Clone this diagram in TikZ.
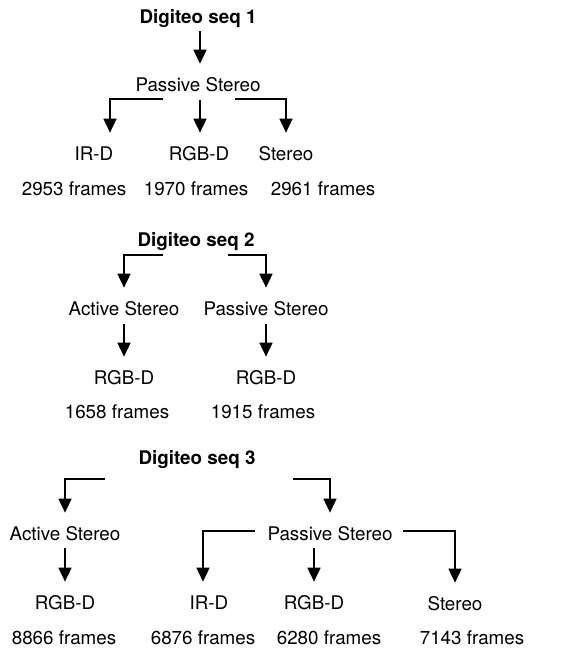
\documentclass[tikz,border=0pt]{standalone}
\usepackage{fontspec}
\setmainfont{TeX Gyre Heros}
\usetikzlibrary{arrows.meta}
\begin{document}
\begin{tikzpicture}[
        x=0.02cm, y=-0.02cm,
        every node/.style={anchor=base, inner xsep=0, inner ysep=0.26cm, text height=0.28cm, text depth=0,
            font=\fontsize{10.7}{13}\selectfont},
        seqtitle/.style={font=\fontsize{10.7}{13}\selectfont\bfseries},
        arr/.style={line width=0.035cm, -{Triangle[length=0.28cm, width=0.26cm]}}
    ]
        \useasboundingbox (0,0) rectangle (562,649);

        % Sequence 1
        \node[seqtitle] (seqA) at (198,23) {Digiteo seq 1};
        \node (psA) at (198,91) {Passive Stereo};
        \node (irdA) at (94,160) {IR-D};
        \node (rgbA) at (199,160) {RGB-D};
        \node (stA) at (286,160) {Stereo};
        \node (fA1) at (74,195) {2953 frames};
        \node (fA2) at (196,195) {1970 frames};
        \node (fA3) at (323,195) {2961 frames};

        \coordinate (sA0) at (200,31);
        \coordinate (sA1) at (163,99);
        \coordinate (sA2) at (200,100);
        \coordinate (sA3) at (235,99);
        \draw[arr] (sA0) -- (sA0 |- psA.north);
        \draw[arr] (sA1) -| ([xshift=0.32cm]irdA.north);
        \draw[arr] (sA2) -- (sA2 |- rgbA.north);
        \draw[arr] (sA3) -| (stA.north);

        % Sequence 2
        \node[seqtitle] (seqB) at (196,246) {Digiteo seq 2};
        \node (acB) at (124,315) {Active Stereo};
        \node (psB) at (266,315) {Passive Stereo};
        \node (rgbB1) at (124,384) {RGB-D};
        \node (rgbB2) at (266,384) {RGB-D};
        \node (fB1) at (117,418) {1658 frames};
        \node (fB2) at (263,418) {1915 frames};

        \coordinate (sB1) at (163,255);
        \coordinate (sB2) at (228,255);
        \coordinate (sB3) at (124,324);
        \coordinate (sB4) at (266,324);
        \draw[arr] (sB1) -| (acB.north);
        \draw[arr] (sB2) -| (psB.north);
        \draw[arr] (sB3) -- (rgbB1.north);
        \draw[arr] (sB4) -- (rgbB2.north);

        % Sequence 3
        \node[seqtitle] (seqC) at (197,464) {Digiteo seq 3};
        \node (acC) at (65,540) {Active Stereo};
        \node (psC) at (330,540) {Passive Stereo};
        \node (rgbC1) at (65,609) {RGB-D};
        \node (irdC) at (209,609) {IR-D};
        \node (rgbC2) at (314,609) {RGB-D};
        \node (stC) at (455,610) {Stereo};
        \node (fC1) at (64,644) {8866 frames};
        \node (fC2) at (203,644) {6876 frames};
        \node (fC3) at (329,644) {6280 frames};
        \node (fC4) at (472,644) {7143 frames};

        \coordinate (sC1) at (105,479);
        \coordinate (sC2) at (293,479);
        \coordinate (sC3) at (65,548);
        \coordinate (sC4) at (255,531);
        \coordinate (sC5) at (314,548);
        \coordinate (sC6) at (403,531);
        \draw[arr] (sC1) -| (acC.north);
        \draw[arr] (sC2) -| (psC.north);
        \draw[arr] (sC3) -- (rgbC1.north);
        \draw[arr] (sC4) -| ([xshift=-0.12cm]irdC.north);
        \draw[arr] (sC5) -- (rgbC2.north);
        \draw[arr] (sC6) -| (stC.north);
    \end{tikzpicture}
\end{document}
